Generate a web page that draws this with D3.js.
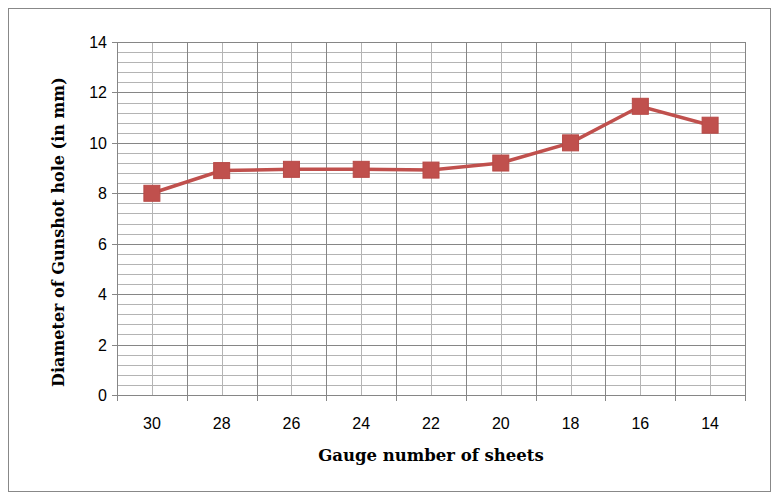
<!DOCTYPE html>
<html><head><meta charset="utf-8">
<script src="https://cdn.jsdelivr.net/npm/d3@7"></script>
<style>body{margin:0;background:#fff}</style>
</head><body>
<svg id="chart" width="779" height="503"></svg>
<script>
const categories = ["30", "28", "26", "24", "22", "20", "18", "16", "14"];
const diameters = [8.0, 8.9, 8.95, 8.95, 8.92, 9.2, 10.0, 11.45, 10.7];
const yTicks = [0, 2, 4, 6, 8, 10, 12, 14];

const svg = d3.select("#chart");
const m = {left: 117, right: 745, top: 42, bottom: 395};

svg.append("rect").attr("x", 8.5).attr("y", 8.5).attr("width", 762).attr("height", 483)
  .attr("fill", "none").attr("stroke", "#888");

const x = d3.scaleBand().domain(categories).range([m.left, m.right]);
const y = d3.scaleLinear().domain([0, 14]).range([m.bottom, m.top]);

// minor horizontal grid
const minor = d3.range(0, 14.01, 0.4).filter(v => Math.abs(v / 2 - Math.round(v / 2)) > 0.01);
svg.append("g").selectAll("line").data(minor).join("line")
  .attr("x1", m.left).attr("x2", m.right)
  .attr("y1", d => Math.round(y(d)) + 0.5).attr("y2", d => Math.round(y(d)) + 0.5)
  .attr("stroke", "#b4b4b4");
// vertical lines at category centres
svg.append("g").selectAll("line").data(categories).join("line")
  .attr("x1", d => Math.round(x(d) + x.bandwidth() / 2) + 0.5)
  .attr("x2", d => Math.round(x(d) + x.bandwidth() / 2) + 0.5)
  .attr("y1", m.top).attr("y2", m.bottom).attr("stroke", "#b4b4b4");
// major grid
svg.append("g").selectAll("line").data(yTicks).join("line")
  .attr("x1", m.left - 5).attr("x2", m.right)
  .attr("y1", d => Math.round(y(d)) + 0.5).attr("y2", d => Math.round(y(d)) + 0.5)
  .attr("stroke", "#868686");
const bounds = categories.map(c => x(c)).concat([m.right]);
svg.append("g").selectAll("line").data(bounds).join("line")
  .attr("x1", d => Math.round(d) + 0.5).attr("x2", d => Math.round(d) + 0.5)
  .attr("y1", m.top).attr("y2", m.bottom + 6).attr("stroke", "#868686");

svg.append("g").selectAll("text").data(yTicks).join("text")
  .attr("x", m.left - 10).attr("y", d => y(d) + 6).attr("text-anchor", "end")
  .attr("font-family", "Liberation Sans, sans-serif").attr("font-size", 16).text(d => d);
svg.append("g").selectAll("text").data(categories).join("text")
  .attr("x", d => x(d) + x.bandwidth() / 2).attr("y", 429).attr("text-anchor", "middle")
  .attr("font-family", "Liberation Sans, sans-serif").attr("font-size", 16).text(d => d);

svg.append("text").attr("x", 431).attr("y", 461).attr("text-anchor", "middle")
  .attr("font-family", "DejaVu Serif, serif").attr("font-weight", "bold").attr("font-size", 16.5)
  .text("Gauge number of sheets");
svg.append("text").attr("transform", "translate(64,232) rotate(-90)").attr("text-anchor", "middle")
  .attr("font-family", "DejaVu Serif, serif").attr("font-weight", "bold").attr("font-size", 16)
  .text("Diameter of Gunshot hole (in mm)");

const pts = categories.map((c, i) => [x(c) + x.bandwidth() / 2, y(diameters[i])]);
svg.append("path").attr("d", d3.line()(pts)).attr("fill", "none")
  .attr("stroke", "#c0504d").attr("stroke-width", 3.5);
svg.append("g").selectAll("rect").data(pts).join("rect")
  .attr("x", d => d[0] - 8).attr("y", d => d[1] - 8).attr("width", 16).attr("height", 16)
  .attr("fill", "#c0504d").attr("stroke", "#b84a47");
</script>
</body></html>
